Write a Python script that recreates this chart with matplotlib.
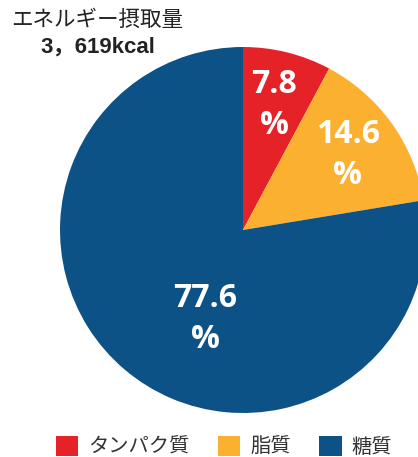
import numpy as np
import matplotlib.pyplot as plt

# data
categories = ['タンパク質', '脂質', '糖質']
shares = [7.8, 14.6, 77.6]
colors = ['#E52228', '#FBB12F', '#0D5286']
title_line1 = 'エネルギー摂取量'
title_line2 = '3，619kcal'

JP = ['Noto Sans CJK JP', 'DejaVu Sans']

fig = plt.figure(figsize=(4.18, 4.57), dpi=100)
ax = fig.add_axes([0, 0, 1, 1])

cx, cy, r = 243, 227, 183
wedges, texts, autotexts = ax.pie(
    shares, colors=colors, startangle=90, counterclock=False,
    center=(cx, cy), radius=r,
    autopct=lambda p: f'{p:.1f}\n%', pctdistance=0.705,
    textprops=dict(color='white', fontsize=23, fontweight='bold',
                   family=['Open Sans', 'DejaVu Sans'], linespacing=1.33),
    wedgeprops=dict(linewidth=0))

# the big slice label sits closer to the centre in the original
ang = np.deg2rad(246.9)
autotexts[2].set_position((cx + 97 * np.cos(ang), cy + 97 * np.sin(ang)))

ax.set_xlim(0, 418)
ax.set_ylim(0, 457)
ax.set_aspect('equal')
ax.axis('off')

ax.text(11, 437, title_line1, ha='left', va='center', fontsize=15.5,
        family=JP, color='#222222')
ax.text(40, 410, title_line2, ha='left', va='center', fontsize=16,
        fontweight='bold', family=['Liberation Sans', 'Noto Sans CJK JP'],
        color='#222222')

leg = ax.legend(wedges, categories, loc='center', bbox_to_anchor=(224 / 418, 10 / 457),
                ncol=3, frameon=False, handlelength=1.1, handleheight=1.1,
                handletextpad=0.5, columnspacing=1.4,
                prop=dict(family=JP, size=14.6), labelcolor='#333333')

fig.savefig('out.png', dpi=100)
